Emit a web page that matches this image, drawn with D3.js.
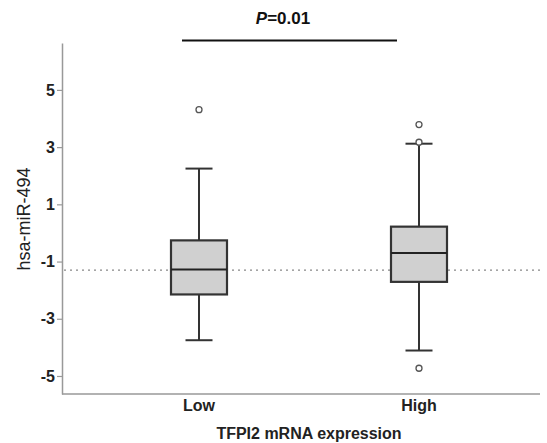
<!DOCTYPE html>
<html>
<head>
<meta charset="utf-8">
<script src="https://cdn.jsdelivr.net/npm/d3@7"></script>
<style>
  body { margin: 0; padding: 0; background: #fff; }
  svg { display: block; font-family: "Liberation Sans", Arial, sans-serif; }
</style>
</head>
<body>
<div id="main"></div>
<script>
// box summaries
const groups = ['Low', 'High'];
const whiskerLow = [-3.75, -4.11];
const q1 = [-2.15, -1.71];
const median = [-1.28, -0.70];
const q3 = [-0.26, 0.22];
const whiskerHigh = [2.25, 3.12];
const outliers = [[4.31], [3.79, 3.17, -4.73]];
const yTicks = [-5, -3, -1, 1, 3, 5];
const refLine = -1.3;
const pLabel = '0.01';

const WIDTH = 547, HEIGHT = 443;
const AXISX = 62, AXISRIGHT = 540, AXISTOP = 43, AXISBOTTOM = 394;

const boxes = groups.map((g, i) => ({
    group: g,
    lo: whiskerLow[i], q1: q1[i], med: median[i], q3: q3[i], hi: whiskerHigh[i],
    out: outliers[i]
}));

const svg = d3.select('#main').append('svg').attr('width', WIDTH).attr('height', HEIGHT);

const scaleY = d3.scaleLinear().domain([-5.63, 6.64]).range([AXISBOTTOM, AXISTOP]);
const scaleX = d3.scalePoint().domain(groups).range([199, 419]);
const BOXW = 56, CAPW = 27;

// axes
const axisY = d3.axisLeft(scaleY).tickValues(yTicks).tickSize(5).tickSizeOuter(0).tickFormat((d) => String(d));
const gy = svg.append('g').attr('transform', `translate(${AXISX},0)`).call(axisY);
gy.select('.domain').attr('stroke', '#999').attr('stroke-width', 1.5);
gy.selectAll('.tick line').attr('stroke', '#999').attr('stroke-width', 1.2);
gy.selectAll('.tick text').attr('fill', '#222').attr('font-size', 16).attr('font-weight', 'bold').attr('x', -7);

svg.append('line')
    .attr('x1', AXISX).attr('x2', AXISRIGHT)
    .attr('y1', AXISBOTTOM).attr('y2', AXISBOTTOM)
    .attr('stroke', '#999').attr('stroke-width', 1.5);

svg.selectAll('.cat').data(groups).enter().append('text')
    .attr('class', 'cat')
    .attr('x', (d) => scaleX(d))
    .attr('y', 411)
    .attr('text-anchor', 'middle')
    .attr('font-size', 16).attr('font-weight', 'bold').attr('fill', '#222')
    .text((d) => d);

svg.append('text')
    .attr('x', 309).attr('y', 439)
    .attr('text-anchor', 'middle')
    .attr('font-size', 16).attr('font-weight', 'bold').attr('fill', '#222')
    .text('TFPI2 mRNA expression');

svg.append('text')
    .attr('transform', `translate(30, 219) rotate(-90)`)
    .attr('text-anchor', 'middle')
    .attr('font-size', 18).attr('fill', '#222')
    .text('hsa-miR-494');

// reference line
svg.append('line')
    .attr('x1', AXISX + 2).attr('x2', AXISRIGHT)
    .attr('y1', scaleY(refLine)).attr('y2', scaleY(refLine))
    .attr('stroke', '#888').attr('stroke-width', 1.3)
    .attr('stroke-dasharray', '2,4');

// boxes
const box = svg.selectAll('.box').data(boxes).enter().append('g').attr('class', 'box');
box.append('line')
    .attr('x1', (d) => scaleX(d.group)).attr('x2', (d) => scaleX(d.group))
    .attr('y1', (d) => scaleY(d.hi)).attr('y2', (d) => scaleY(d.q3))
    .attr('stroke', '#333').attr('stroke-width', 2);
box.append('line')
    .attr('x1', (d) => scaleX(d.group)).attr('x2', (d) => scaleX(d.group))
    .attr('y1', (d) => scaleY(d.q1)).attr('y2', (d) => scaleY(d.lo))
    .attr('stroke', '#333').attr('stroke-width', 2);
box.selectAll('.cap').data((d) => [d.lo, d.hi].map((v) => ({group: d.group, v}))).enter().append('line')
    .attr('class', 'cap')
    .attr('x1', (d) => scaleX(d.group) - CAPW / 2).attr('x2', (d) => scaleX(d.group) + CAPW / 2)
    .attr('y1', (d) => scaleY(d.v)).attr('y2', (d) => scaleY(d.v))
    .attr('stroke', '#333').attr('stroke-width', 2);
box.append('rect')
    .attr('x', (d) => scaleX(d.group) - BOXW / 2)
    .attr('y', (d) => scaleY(d.q3))
    .attr('width', BOXW)
    .attr('height', (d) => scaleY(d.q1) - scaleY(d.q3))
    .attr('fill', '#d0d0d0').attr('stroke', '#333').attr('stroke-width', 2.2);
box.append('line')
    .attr('x1', (d) => scaleX(d.group) - BOXW / 2).attr('x2', (d) => scaleX(d.group) + BOXW / 2)
    .attr('y1', (d) => scaleY(d.med)).attr('y2', (d) => scaleY(d.med))
    .attr('stroke', '#222').attr('stroke-width', 2);
box.selectAll('.out').data((d) => d.out.map((v) => ({group: d.group, v}))).enter().append('circle')
    .attr('class', 'out')
    .attr('cx', (d) => scaleX(d.group))
    .attr('cy', (d) => scaleY(d.v))
    .attr('r', 3)
    .attr('fill', '#fff').attr('stroke', '#555').attr('stroke-width', 1.3);

// significance bracket
svg.append('line')
    .attr('x1', 182).attr('x2', 397)
    .attr('y1', 40.5).attr('y2', 40.5)
    .attr('stroke', '#111').attr('stroke-width', 2);
const pText = svg.append('text')
    .attr('x', 283).attr('y', 24)
    .attr('text-anchor', 'middle')
    .attr('font-size', 17).attr('font-weight', 'bold').attr('fill', '#111');
pText.append('tspan').attr('font-style', 'italic').text('P');
pText.append('tspan').text('=' + pLabel);
</script>
</body>
</html>
